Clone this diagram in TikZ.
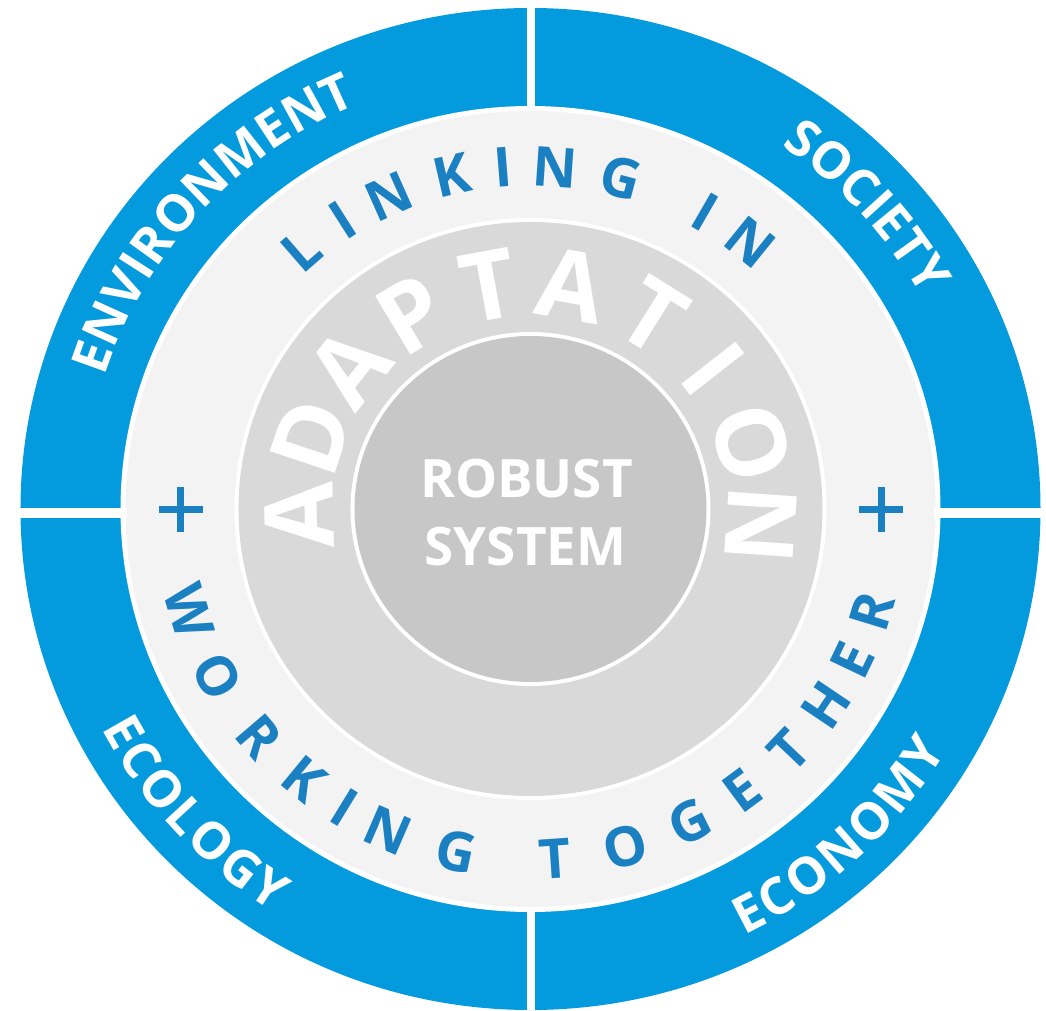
\documentclass[tikz,border=0pt]{standalone}
\usepackage{fontspec}
\setmainfont{Open Sans}
\newfontfamily\osans{Open Sans}
\usetikzlibrary{decorations.text}
\definecolor{ringblue}{RGB}{3,155,222}
\definecolor{txtblue}{RGB}{26,128,194}
\definecolor{lightring}{RGB}{243,243,243}
\definecolor{midgray}{RGB}{217,217,217}
\definecolor{coregray}{RGB}{199,199,199}
\begin{document}
\begin{tikzpicture}[x=1pt, y=1pt,
  ringletter/.style={font=\osans\bfseries\fontsize{55}{55}\selectfont, text=txtblue, inner sep=0pt, text height=40pt, text depth=0pt},
  adaptletter/.style={font=\osans\bfseries\fontsize{96}{96}\selectfont, text=white, inner sep=0pt, text height=70pt, text depth=0pt},
  coretext/.style={font=\osans\bfseries\fontsize{53}{53}\selectfont, text=white, inner sep=0pt, text height=38pt, text depth=0pt},
  outerlab/.style={decorate, decoration={text along path, text align={fit to path}, text color=white, text={|\osans\bfseries\fontsize{51}{51}\selectfont|#1}}},
  vgap/.style={white, line width=8pt},
  hgap/.style={white, line width=10pt},
  plusbar/.style={txtblue, line width=7pt},
]
\useasboundingbox (-530.5,-502) rectangle (515.5,509);
\fill[white] (-530.5,-502) rectangle (515.5,509);
% rings
\fill[ringblue] (0,0) ellipse[x radius=510pt, y radius=501pt];
\fill[white] (0,0) ellipse[x radius=410pt, y radius=403pt];
\fill[lightring] (0,0) ellipse[x radius=405pt, y radius=398pt];
\fill[white] (0,0) ellipse[x radius=296pt, y radius=291pt];
\fill[midgray] (0,0) ellipse[x radius=292pt, y radius=287pt];
\fill[white] (0,0) ellipse[x radius=180pt, y radius=177pt];
\fill[coregray] (0,0) ellipse[x radius=176pt, y radius=173pt];
% quadrant gaps
\draw[vgap] (0.5,398) -- (0.5,508);
\draw[vgap] (0.5,-398) -- (0.5,-501);
\draw[hgap] (-530,-4.5) -- (-403,-4.5);
\draw[hgap] (403,-4.5) -- (515,-4.5);
% plus signs
\draw[plusbar] (-371.5,-1) -- (-327.5,-1);
\draw[plusbar] (-349.5,-23.5) -- (-349.5,21.5);
\draw[plusbar] (328.5,-1) -- (372.5,-1);
\draw[plusbar] (350.5,-23.5) -- (350.5,21.5);
% outer labels
\path[outerlab=ENVIRONMENT] ({446.9*cos(162.4)},{439*sin(162.4)}) arc[start angle=162.4, end angle=114.6, x radius=446.9pt, y radius=439pt];
\path[outerlab=SOCIETY] ({446.9*cos(55.9)},{439*sin(55.9)}) arc[start angle=55.9, end angle=29.2, x radius=446.9pt, y radius=439pt];
\path[outerlab=ECOLOGY] ({483.6*cos(207.5)},{475*sin(207.5)}) arc[start angle=207.5, end angle=237.9, x radius=483.6pt, y radius=475pt];
\path[outerlab=ECONOMY] ({483.6*cos(296.2)},{475*sin(296.2)}) arc[start angle=296.2, end angle=329.4, x radius=483.6pt, y radius=475pt];
% LINKING IN
\foreach \ch/\a [count=\i] in {L/131,I/122.5,N/114,K/103,I/94.5,N/86,G/75,I/60,N/51}
  \node[ringletter, rotate=\a-90] (lk\i) at ({1.018*343*cos(\a)},{343*sin(\a)}) {\ch};
% WORKING TOGETHER
\foreach \ch/\a [count=\i] in {W/197,O/208.5,R/220.5,K/230.5,I/238.5,N/246.5,G/258,T/274,O/285.5,G/296.5,E/306.5,T/316.5,H/326,E/334.5,R/343}
  \node[ringletter, rotate=\a+90] (wt\i) at ({1.018*350*cos(\a)},{350*sin(\a)}) {\ch};
% ADAPTATION
\foreach \ch/\a [count=\i] in {A/181.5,D/161.5,A/141.5,P/121,T/100.5,A/80,T/58,I/38,O/17,N/-4}
  \node[adaptletter, rotate=\a-90] (ad\i) at ({1.018*228*cos(\a)},{228*sin(\a)}) {\ch};
% core
\node[coretext] (robust) at (-4,30) {ROBUST};
\node[coretext] (system) at (-5,-38) {SYSTEM};
\end{tikzpicture}
\end{document}
